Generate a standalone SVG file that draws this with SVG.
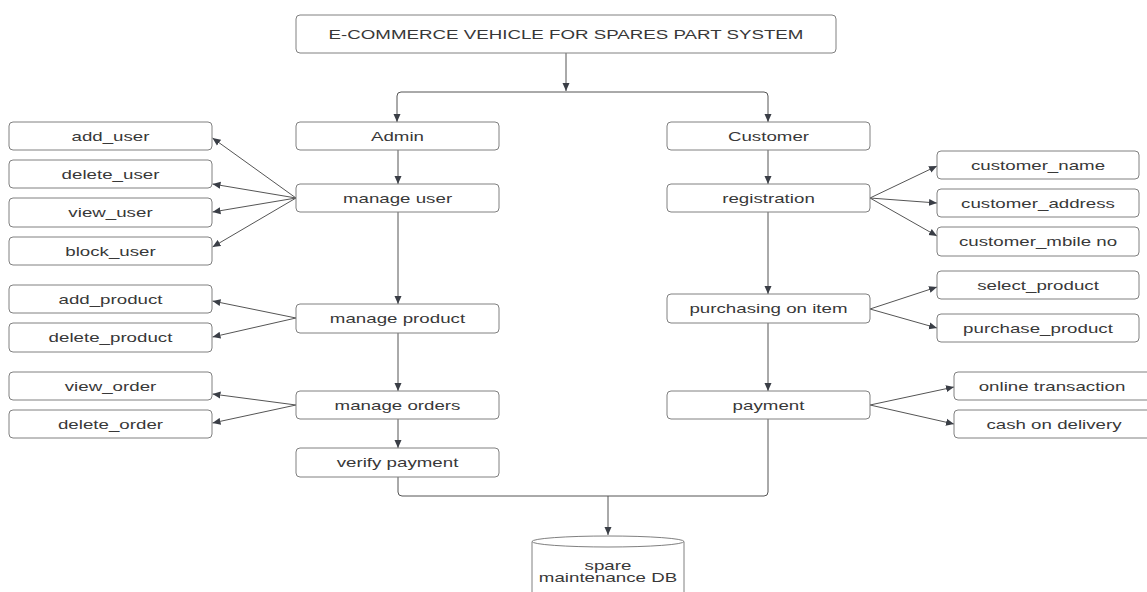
<svg xmlns="http://www.w3.org/2000/svg" width="1147" height="592" viewBox="0 0 1147 592">
<style>
.box{fill:#fff;stroke:#808080;stroke-width:1}
.t{font-family:"Liberation Sans",Arial,sans-serif;font-size:13px;fill:#383838;text-anchor:middle}
.c{fill:none;stroke:#555;stroke-width:1}
</style>
<defs>
<marker id="ah" viewBox="0 0 8 8" refX="8" refY="4" markerWidth="8" markerHeight="8" markerUnits="userSpaceOnUse" orient="auto">
<path d="M0,0.5 L8,4 L0,7.5 z" fill="#3a3e46"/>
</marker>
</defs>
<rect width="1147" height="592" fill="#fff"/>
<g id="connectors">
<path class="c" d="M566,53 V91" marker-end="url(#ah)"/>
<path class="c" d="M566,92 H401 Q397,92 397,96 V122" marker-end="url(#ah)"/>
<path class="c" d="M566,92 H764 Q768,92 768,96 V122" marker-end="url(#ah)"/>
<path class="c" d="M398,150 V184" marker-end="url(#ah)"/>
<path class="c" d="M398,212 V304" marker-end="url(#ah)"/>
<path class="c" d="M398,333 V391" marker-end="url(#ah)"/>
<path class="c" d="M398,419 V448" marker-end="url(#ah)"/>
<path class="c" d="M768,150 V184" marker-end="url(#ah)"/>
<path class="c" d="M768,212 V294" marker-end="url(#ah)"/>
<path class="c" d="M768,323 V391" marker-end="url(#ah)"/>
<path class="c" d="M398,477 V492 Q398,496 402,496 H764 Q768,496 768,492 V419"/>
<path class="c" d="M608,496 V535" marker-end="url(#ah)"/>
<path class="c" d="M296,198 L212.5,138" marker-end="url(#ah)"/>
<path class="c" d="M296,198 L212.5,184" marker-end="url(#ah)"/>
<path class="c" d="M296,198 L212.5,212" marker-end="url(#ah)"/>
<path class="c" d="M296,198 L212.5,247" marker-end="url(#ah)"/>
<path class="c" d="M296,318 L212.5,301" marker-end="url(#ah)"/>
<path class="c" d="M296,318 L212.5,337" marker-end="url(#ah)"/>
<path class="c" d="M296,405 L212.5,394" marker-end="url(#ah)"/>
<path class="c" d="M296,405 L212.5,423" marker-end="url(#ah)"/>
<path class="c" d="M870,198 L937,166" marker-end="url(#ah)"/>
<path class="c" d="M870,198 L937,203" marker-end="url(#ah)"/>
<path class="c" d="M870,198 L937,236" marker-end="url(#ah)"/>
<path class="c" d="M870,309 L937,287" marker-end="url(#ah)"/>
<path class="c" d="M870,309 L937,328" marker-end="url(#ah)"/>
<path class="c" d="M870,405 L954,387" marker-end="url(#ah)"/>
<path class="c" d="M870,405 L954,424" marker-end="url(#ah)"/>
</g>
<g id="title"><rect class="box" x="296" y="15" width="540" height="38" rx="4"/><text class="t" transform="translate(566 38.5) scale(1.44 1)">E-COMMERCE VEHICLE FOR SPARES PART SYSTEM</text></g>
<g id="admin"><rect class="box" x="296" y="122" width="203" height="28" rx="4"/><text class="t" transform="translate(397.5 140.5) scale(1.44 1)">Admin</text></g>
<g id="manage_user"><rect class="box" x="296" y="184" width="203" height="28" rx="4"/><text class="t" transform="translate(397.5 202.5) scale(1.44 1)">manage user</text></g>
<g id="manage_product"><rect class="box" x="296" y="304" width="203" height="29" rx="4"/><text class="t" transform="translate(397.5 323) scale(1.44 1)">manage product</text></g>
<g id="manage_orders"><rect class="box" x="296" y="391" width="203" height="28" rx="4"/><text class="t" transform="translate(397.5 409.5) scale(1.44 1)">manage orders</text></g>
<g id="verify_payment"><rect class="box" x="296" y="448" width="203" height="29" rx="4"/><text class="t" transform="translate(397.5 467) scale(1.44 1)">verify payment</text></g>
<g id="add_user"><rect class="box" x="9" y="122" width="203" height="28" rx="4"/><text class="t" transform="translate(110.5 140.5) scale(1.44 1)">add_user</text></g>
<g id="delete_user"><rect class="box" x="9" y="160" width="203" height="28" rx="4"/><text class="t" transform="translate(110.5 178.5) scale(1.44 1)">delete_user</text></g>
<g id="view_user"><rect class="box" x="9" y="198" width="203" height="29" rx="4"/><text class="t" transform="translate(110.5 217) scale(1.44 1)">view_user</text></g>
<g id="block_user"><rect class="box" x="9" y="237" width="203" height="28" rx="4"/><text class="t" transform="translate(110.5 255.5) scale(1.44 1)">block_user</text></g>
<g id="add_product"><rect class="box" x="9" y="285" width="203" height="28" rx="4"/><text class="t" transform="translate(110.5 303.5) scale(1.44 1)">add_product</text></g>
<g id="delete_product"><rect class="box" x="9" y="323" width="203" height="29" rx="4"/><text class="t" transform="translate(110.5 342) scale(1.44 1)">delete_product</text></g>
<g id="view_order"><rect class="box" x="9" y="372" width="203" height="28" rx="4"/><text class="t" transform="translate(110.5 390.5) scale(1.44 1)">view_order</text></g>
<g id="delete_order"><rect class="box" x="9" y="410" width="203" height="28" rx="4"/><text class="t" transform="translate(110.5 428.5) scale(1.44 1)">delete_order</text></g>
<g id="customer"><rect class="box" x="667" y="122" width="203" height="28" rx="4"/><text class="t" transform="translate(768.5 140.5) scale(1.44 1)">Customer</text></g>
<g id="registration"><rect class="box" x="667" y="184" width="203" height="28" rx="4"/><text class="t" transform="translate(768.5 202.5) scale(1.44 1)">registration</text></g>
<g id="purchasing"><rect class="box" x="667" y="294" width="203" height="29" rx="4"/><text class="t" transform="translate(768.5 313) scale(1.44 1)">purchasing on item</text></g>
<g id="payment"><rect class="box" x="667" y="391" width="203" height="28" rx="4"/><text class="t" transform="translate(768.5 409.5) scale(1.44 1)">payment</text></g>
<g id="customer_name"><rect class="box" x="937" y="151" width="202" height="28" rx="4"/><text class="t" transform="translate(1038 169.5) scale(1.44 1)">customer_name</text></g>
<g id="customer_address"><rect class="box" x="937" y="189" width="202" height="28" rx="4"/><text class="t" transform="translate(1038 207.5) scale(1.44 1)">customer_address</text></g>
<g id="customer_mobile"><rect class="box" x="937" y="227" width="202" height="29" rx="4"/><text class="t" transform="translate(1038 246) scale(1.44 1)">customer_mbile no</text></g>
<g id="select_product"><rect class="box" x="937" y="271" width="202" height="28" rx="4"/><text class="t" transform="translate(1038 289.5) scale(1.44 1)">select_product</text></g>
<g id="purchase_product"><rect class="box" x="937" y="314" width="202" height="28" rx="4"/><text class="t" transform="translate(1038 332.5) scale(1.44 1)">purchase_product</text></g>
<g id="online_transaction"><rect class="box" x="954" y="372" width="203" height="28" rx="4"/><text class="t" transform="translate(1052 390.5) scale(1.44 1)">online transaction</text></g>
<g id="cash_on_delivery"><rect class="box" x="954" y="410" width="203" height="28" rx="4"/><text class="t" transform="translate(1054 428.5) scale(1.44 1)">cash on delivery</text></g>
<g id="db">
<path class="box" d="M532,541.5 V600 H684 V541.5"/>
<ellipse class="box" cx="608" cy="541.5" rx="76" ry="5.5"/>
<text class="t" transform="translate(608 569.5) scale(1.44 1)">spare</text>
<text class="t" transform="translate(608 582) scale(1.44 1)">maintenance DB</text>
</g>
</svg>
